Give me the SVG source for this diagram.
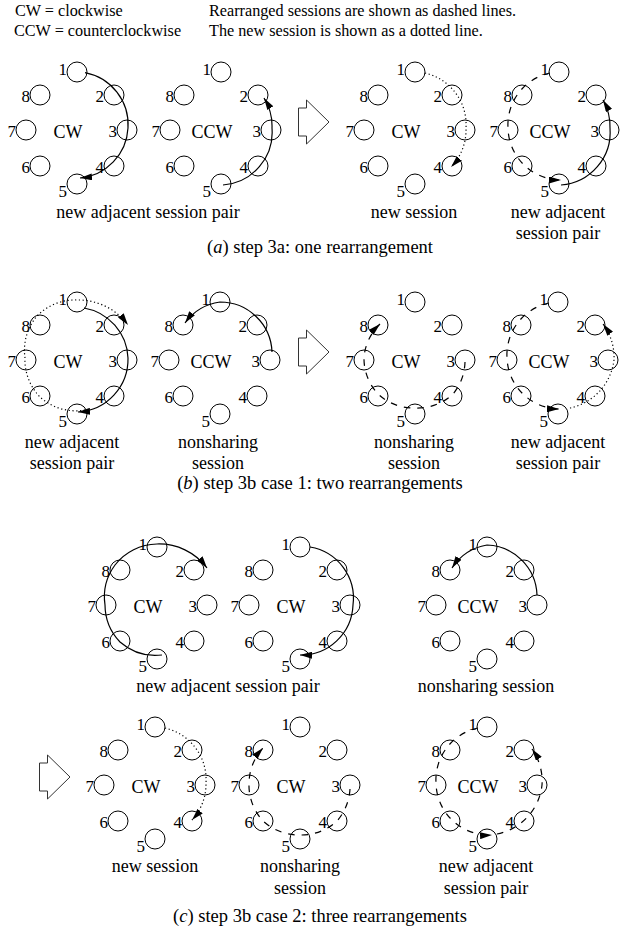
<svg xmlns="http://www.w3.org/2000/svg" width="620" height="932" viewBox="0 0 620 932">
<defs>
<style>
text{font-family:"Liberation Serif","Times New Roman",serif;fill:#000}
.hd{font-size:16.2px}
.n circle{fill:none;stroke:#000;stroke-width:1}
.n text{font-size:17px;text-anchor:end}
.n text.dir{font-size:18px;text-anchor:middle}
.lb{font-size:18px;text-anchor:middle}
.cap{font-size:18.5px;text-anchor:middle}
.c{fill:none;stroke:#000;stroke-width:1.2}
.sol{marker-end:url(#ah)}
.dsh{stroke-dasharray:6.5 7;marker-end:url(#ah)}
.dot{stroke-dasharray:1.2 2.6;marker-end:url(#ah)}
.big{fill:#fff;stroke:#333;stroke-width:1}
</style>
<marker id="ah" viewBox="0 0 12 7" refX="12" refY="3.5" markerWidth="12" markerHeight="7" markerUnits="userSpaceOnUse" orient="auto"><path d="M0,0 L12,3.5 L0,7 Z" fill="#000"/></marker>
</defs>
<rect width="620" height="932" fill="#fff"/>
<g id="header">
<text class="hd" x="15" y="15.5">CW = clockwise</text>
<text class="hd" x="14" y="35.5">CCW = counterclockwise</text>
<text class="hd" x="209" y="15.5">Rearranged sessions are shown as dashed lines.</text>
<text class="hd" x="209" y="35.5">The new session is shown as a dotted line.</text>
</g>

<g id="ring-a1" class="n" transform="translate(77,72)">
<g id="a1-1"><circle cx="0" cy="0" r="10"/><text x="-10" y="2.5">1</text></g>
<g id="a1-2"><circle cx="37" cy="23" r="10"/><text x="27" y="30">2</text></g>
<g id="a1-3"><circle cx="50" cy="58" r="10"/><text x="40" y="65">3</text></g>
<g id="a1-4"><circle cx="37" cy="94" r="10"/><text x="27" y="101">4</text></g>
<g id="a1-5"><circle cx="0" cy="112" r="10"/><text x="-10" y="124.5">5</text></g>
<g id="a1-6"><circle cx="-37" cy="94" r="10"/><text x="-47" y="101">6</text></g>
<g id="a1-7"><circle cx="-51" cy="58" r="10"/><text x="-61" y="65">7</text></g>
<g id="a1-8"><circle cx="-37" cy="23" r="10"/><text x="-47" y="30">8</text></g>
<text class="dir" x="-9" y="66">CW</text>
</g>
<g id="ring-a2" class="n" transform="translate(221,72)">
<g id="a2-1"><circle cx="0" cy="0" r="10"/><text x="-10" y="2.5">1</text></g>
<g id="a2-2"><circle cx="37" cy="23" r="10"/><text x="27" y="30">2</text></g>
<g id="a2-3"><circle cx="50" cy="58" r="10"/><text x="40" y="65">3</text></g>
<g id="a2-4"><circle cx="37" cy="94" r="10"/><text x="27" y="101">4</text></g>
<g id="a2-5"><circle cx="0" cy="112" r="10"/><text x="-10" y="124.5">5</text></g>
<g id="a2-6"><circle cx="-37" cy="94" r="10"/><text x="-47" y="101">6</text></g>
<g id="a2-7"><circle cx="-51" cy="58" r="10"/><text x="-61" y="65">7</text></g>
<g id="a2-8"><circle cx="-37" cy="23" r="10"/><text x="-47" y="30">8</text></g>
<text class="dir" x="-9" y="66">CCW</text>
</g>
<g id="ring-a3" class="n" transform="translate(415,72)">
<g id="a3-1"><circle cx="0" cy="0" r="10"/><text x="-10" y="2.5">1</text></g>
<g id="a3-2"><circle cx="37" cy="23" r="10"/><text x="27" y="30">2</text></g>
<g id="a3-3"><circle cx="50" cy="58" r="10"/><text x="40" y="65">3</text></g>
<g id="a3-4"><circle cx="37" cy="94" r="10"/><text x="27" y="101">4</text></g>
<g id="a3-5"><circle cx="0" cy="112" r="10"/><text x="-10" y="124.5">5</text></g>
<g id="a3-6"><circle cx="-37" cy="94" r="10"/><text x="-47" y="101">6</text></g>
<g id="a3-7"><circle cx="-51" cy="58" r="10"/><text x="-61" y="65">7</text></g>
<g id="a3-8"><circle cx="-37" cy="23" r="10"/><text x="-47" y="30">8</text></g>
<text class="dir" x="-9" y="66">CW</text>
</g>
<g id="ring-a4" class="n" transform="translate(559,72)">
<g id="a4-1"><circle cx="0" cy="0" r="10"/><text x="-10" y="2.5">1</text></g>
<g id="a4-2"><circle cx="37" cy="23" r="10"/><text x="27" y="30">2</text></g>
<g id="a4-3"><circle cx="50" cy="58" r="10"/><text x="40" y="65">3</text></g>
<g id="a4-4"><circle cx="37" cy="94" r="10"/><text x="27" y="101">4</text></g>
<g id="a4-5"><circle cx="0" cy="112" r="10"/><text x="-10" y="124.5">5</text></g>
<g id="a4-6"><circle cx="-37" cy="94" r="10"/><text x="-47" y="101">6</text></g>
<g id="a4-7"><circle cx="-51" cy="58" r="10"/><text x="-61" y="65">7</text></g>
<g id="a4-8"><circle cx="-37" cy="23" r="10"/><text x="-47" y="30">8</text></g>
<text class="dir" x="-9" y="66">CCW</text>
</g>

<g id="ring-b1" class="n" transform="translate(77,302)">
<g id="b1-1"><circle cx="0" cy="0" r="10"/><text x="-10" y="2.5">1</text></g>
<g id="b1-2"><circle cx="37" cy="23" r="10"/><text x="27" y="30">2</text></g>
<g id="b1-3"><circle cx="50" cy="58" r="10"/><text x="40" y="65">3</text></g>
<g id="b1-4"><circle cx="37" cy="94" r="10"/><text x="27" y="101">4</text></g>
<g id="b1-5"><circle cx="0" cy="112" r="10"/><text x="-10" y="124.5">5</text></g>
<g id="b1-6"><circle cx="-37" cy="94" r="10"/><text x="-47" y="101">6</text></g>
<g id="b1-7"><circle cx="-51" cy="58" r="10"/><text x="-61" y="65">7</text></g>
<g id="b1-8"><circle cx="-37" cy="23" r="10"/><text x="-47" y="30">8</text></g>
<text class="dir" x="-9" y="66">CW</text>
</g>
<g id="ring-b2" class="n" transform="translate(220,302)">
<g id="b2-1"><circle cx="0" cy="0" r="10"/><text x="-10" y="2.5">1</text></g>
<g id="b2-2"><circle cx="37" cy="23" r="10"/><text x="27" y="30">2</text></g>
<g id="b2-3"><circle cx="50" cy="58" r="10"/><text x="40" y="65">3</text></g>
<g id="b2-4"><circle cx="37" cy="94" r="10"/><text x="27" y="101">4</text></g>
<g id="b2-5"><circle cx="0" cy="112" r="10"/><text x="-10" y="124.5">5</text></g>
<g id="b2-6"><circle cx="-37" cy="94" r="10"/><text x="-47" y="101">6</text></g>
<g id="b2-7"><circle cx="-51" cy="58" r="10"/><text x="-61" y="65">7</text></g>
<g id="b2-8"><circle cx="-37" cy="23" r="10"/><text x="-47" y="30">8</text></g>
<text class="dir" x="-9" y="66">CCW</text>
</g>
<g id="ring-b3" class="n" transform="translate(415,302)">
<g id="b3-1"><circle cx="0" cy="0" r="10"/><text x="-10" y="2.5">1</text></g>
<g id="b3-2"><circle cx="37" cy="23" r="10"/><text x="27" y="30">2</text></g>
<g id="b3-3"><circle cx="50" cy="58" r="10"/><text x="40" y="65">3</text></g>
<g id="b3-4"><circle cx="37" cy="94" r="10"/><text x="27" y="101">4</text></g>
<g id="b3-5"><circle cx="0" cy="112" r="10"/><text x="-10" y="124.5">5</text></g>
<g id="b3-6"><circle cx="-37" cy="94" r="10"/><text x="-47" y="101">6</text></g>
<g id="b3-7"><circle cx="-51" cy="58" r="10"/><text x="-61" y="65">7</text></g>
<g id="b3-8"><circle cx="-37" cy="23" r="10"/><text x="-47" y="30">8</text></g>
<text class="dir" x="-9" y="66">CW</text>
</g>
<g id="ring-b4" class="n" transform="translate(558,302)">
<g id="b4-1"><circle cx="0" cy="0" r="10"/><text x="-10" y="2.5">1</text></g>
<g id="b4-2"><circle cx="37" cy="23" r="10"/><text x="27" y="30">2</text></g>
<g id="b4-3"><circle cx="50" cy="58" r="10"/><text x="40" y="65">3</text></g>
<g id="b4-4"><circle cx="37" cy="94" r="10"/><text x="27" y="101">4</text></g>
<g id="b4-5"><circle cx="0" cy="112" r="10"/><text x="-10" y="124.5">5</text></g>
<g id="b4-6"><circle cx="-37" cy="94" r="10"/><text x="-47" y="101">6</text></g>
<g id="b4-7"><circle cx="-51" cy="58" r="10"/><text x="-61" y="65">7</text></g>
<g id="b4-8"><circle cx="-37" cy="23" r="10"/><text x="-47" y="30">8</text></g>
<text class="dir" x="-9" y="66">CCW</text>
</g>

<g id="ring-c1" class="n" transform="translate(157,547)">
<g id="c1-1"><circle cx="0" cy="0" r="10"/><text x="-10" y="2.5">1</text></g>
<g id="c1-2"><circle cx="37" cy="23" r="10"/><text x="27" y="30">2</text></g>
<g id="c1-3"><circle cx="50" cy="58" r="10"/><text x="40" y="65">3</text></g>
<g id="c1-4"><circle cx="37" cy="94" r="10"/><text x="27" y="101">4</text></g>
<g id="c1-5"><circle cx="0" cy="112" r="10"/><text x="-10" y="124.5">5</text></g>
<g id="c1-6"><circle cx="-37" cy="94" r="10"/><text x="-47" y="101">6</text></g>
<g id="c1-7"><circle cx="-51" cy="58" r="10"/><text x="-61" y="65">7</text></g>
<g id="c1-8"><circle cx="-37" cy="23" r="10"/><text x="-47" y="30">8</text></g>
<text class="dir" x="-9" y="66">CW</text>
</g>
<g id="ring-c2" class="n" transform="translate(300,547)">
<g id="c2-1"><circle cx="0" cy="0" r="10"/><text x="-10" y="2.5">1</text></g>
<g id="c2-2"><circle cx="37" cy="23" r="10"/><text x="27" y="30">2</text></g>
<g id="c2-3"><circle cx="50" cy="58" r="10"/><text x="40" y="65">3</text></g>
<g id="c2-4"><circle cx="37" cy="94" r="10"/><text x="27" y="101">4</text></g>
<g id="c2-5"><circle cx="0" cy="112" r="10"/><text x="-10" y="124.5">5</text></g>
<g id="c2-6"><circle cx="-37" cy="94" r="10"/><text x="-47" y="101">6</text></g>
<g id="c2-7"><circle cx="-51" cy="58" r="10"/><text x="-61" y="65">7</text></g>
<g id="c2-8"><circle cx="-37" cy="23" r="10"/><text x="-47" y="30">8</text></g>
<text class="dir" x="-9" y="66">CW</text>
</g>
<g id="ring-c3" class="n" transform="translate(487,547)">
<g id="c3-1"><circle cx="0" cy="0" r="10"/><text x="-10" y="2.5">1</text></g>
<g id="c3-2"><circle cx="37" cy="23" r="10"/><text x="27" y="30">2</text></g>
<g id="c3-3"><circle cx="50" cy="58" r="10"/><text x="40" y="65">3</text></g>
<g id="c3-4"><circle cx="37" cy="94" r="10"/><text x="27" y="101">4</text></g>
<g id="c3-5"><circle cx="0" cy="112" r="10"/><text x="-10" y="124.5">5</text></g>
<g id="c3-6"><circle cx="-37" cy="94" r="10"/><text x="-47" y="101">6</text></g>
<g id="c3-7"><circle cx="-51" cy="58" r="10"/><text x="-61" y="65">7</text></g>
<g id="c3-8"><circle cx="-37" cy="23" r="10"/><text x="-47" y="30">8</text></g>
<text class="dir" x="-9" y="66">CCW</text>
</g>
<g id="ring-c4" class="n" transform="translate(155,727)">
<g id="c4-1"><circle cx="0" cy="0" r="10"/><text x="-10" y="2.5">1</text></g>
<g id="c4-2"><circle cx="37" cy="23" r="10"/><text x="27" y="30">2</text></g>
<g id="c4-3"><circle cx="50" cy="58" r="10"/><text x="40" y="65">3</text></g>
<g id="c4-4"><circle cx="37" cy="94" r="10"/><text x="27" y="101">4</text></g>
<g id="c4-5"><circle cx="0" cy="112" r="10"/><text x="-10" y="124.5">5</text></g>
<g id="c4-6"><circle cx="-37" cy="94" r="10"/><text x="-47" y="101">6</text></g>
<g id="c4-7"><circle cx="-51" cy="58" r="10"/><text x="-61" y="65">7</text></g>
<g id="c4-8"><circle cx="-37" cy="23" r="10"/><text x="-47" y="30">8</text></g>
<text class="dir" x="-9" y="66">CW</text>
</g>
<g id="ring-c5" class="n" transform="translate(300,727)">
<g id="c5-1"><circle cx="0" cy="0" r="10"/><text x="-10" y="2.5">1</text></g>
<g id="c5-2"><circle cx="37" cy="23" r="10"/><text x="27" y="30">2</text></g>
<g id="c5-3"><circle cx="50" cy="58" r="10"/><text x="40" y="65">3</text></g>
<g id="c5-4"><circle cx="37" cy="94" r="10"/><text x="27" y="101">4</text></g>
<g id="c5-5"><circle cx="0" cy="112" r="10"/><text x="-10" y="124.5">5</text></g>
<g id="c5-6"><circle cx="-37" cy="94" r="10"/><text x="-47" y="101">6</text></g>
<g id="c5-7"><circle cx="-51" cy="58" r="10"/><text x="-61" y="65">7</text></g>
<g id="c5-8"><circle cx="-37" cy="23" r="10"/><text x="-47" y="30">8</text></g>
<text class="dir" x="-9" y="66">CW</text>
</g>
<g id="ring-c6" class="n" transform="translate(487,727)">
<g id="c6-1"><circle cx="0" cy="0" r="10"/><text x="-10" y="2.5">1</text></g>
<g id="c6-2"><circle cx="37" cy="23" r="10"/><text x="27" y="30">2</text></g>
<g id="c6-3"><circle cx="50" cy="58" r="10"/><text x="40" y="65">3</text></g>
<g id="c6-4"><circle cx="37" cy="94" r="10"/><text x="27" y="101">4</text></g>
<g id="c6-5"><circle cx="0" cy="112" r="10"/><text x="-10" y="124.5">5</text></g>
<g id="c6-6"><circle cx="-37" cy="94" r="10"/><text x="-47" y="101">6</text></g>
<g id="c6-7"><circle cx="-51" cy="58" r="10"/><text x="-61" y="65">7</text></g>
<g id="c6-8"><circle cx="-37" cy="23" r="10"/><text x="-47" y="30">8</text></g>
<text class="dir" x="-9" y="66">CCW</text>
</g>

<g id="connectors">
<g transform="translate(77,72)"><path class="c sol" d="M8,0.7 A53,53 0 0 1 51,56 A53,53 0 0 1 3,106"/></g>
<g transform="translate(221,72)"><path class="c sol" d="M2,113 A53,53 0 0 0 51,56 A53,53 0 0 0 43,26"/></g>
<g transform="translate(415,72)"><path class="c dot" d="M10,1 A53,53 0 0 1 51,56 A53,53 0 0 1 36,95"/></g>
<g transform="translate(559,72)"><path class="c dsh" d="M-9,1 A53,53 0 0 0 -51,56 A53,53 0 0 0 2,108"/><path class="c sol" d="M2,113 A53,53 0 0 0 51,56 A53,53 0 0 0 44,28"/></g>

<g transform="translate(77,302)"><path class="c dot" d="M8,108 A53,53 0 0 1 -37,95 A53,53 0 0 1 -52,56 A53,53 0 0 1 -40,14 A53,53 0 0 1 0,-2 A62,62 0 0 1 51,23"/><path class="c sol" d="M7,6 A53,53 0 0 1 51,56 A53,53 0 0 1 1,110"/></g>
<g transform="translate(220,302)"><path class="c sol" d="M52,50 A52,52 0 0 0 0,0 A52,52 0 0 0 -35,21"/></g>
<g transform="translate(415,302)"><path class="c dsh" d="M50,60 A52,52 0 0 1 38,92 A52,52 0 0 1 0,106 A52,52 0 0 1 -37,92 A52,52 0 0 1 -51,55 A52,52 0 0 1 -35,22"/></g>
<g transform="translate(558,302)"><path class="c dsh" d="M-9,1 A53,53 0 0 0 -51,56 A53,53 0 0 0 1,107"/><path class="c dot" d="M12,106 A56,56 0 0 0 56,58 A56,56 0 0 0 45,22"/></g>

<g transform="translate(157,547)"><path class="c sol" d="M5,108 A54,54 0 0 1 -37,95 A54,54 0 0 1 -52,58 A54,54 0 0 1 -42,18 A54,54 0 0 1 0,-3 A60,60 0 0 1 50,21"/></g>
<g transform="translate(300,547)"><path class="c sol" d="M10,0 A52,52 0 0 1 53,58 A52,52 0 0 1 0,108"/></g>
<g transform="translate(487,547)"><path class="c sol" d="M50,48 A52,52 0 0 0 0,-2 A52,52 0 0 0 -35,21"/></g>
<g transform="translate(155,727)"><path class="c dot" d="M10,1 A53,53 0 0 1 51,56 A53,53 0 0 1 37,93"/></g>
<g transform="translate(300,727)"><path class="c dsh" d="M50,62 A53,53 0 0 1 37,94 A53,53 0 0 1 0,108 A53,53 0 0 1 -37,94 A53,53 0 0 1 -51,56 A53,53 0 0 1 -37,21"/></g>
<g transform="translate(487,727)"><path class="c dsh" d="M-9,1 A53,53 0 0 0 -51,56 A53,53 0 0 0 5,108"/><path class="c dsh" d="M10,107 A56,56 0 0 0 55,58 A56,56 0 0 0 45,22"/></g>
</g>

<g id="step-arrows">
<path id="arrow-a" class="big" d="M298.5,108 H306.5 V100 L329,122 L306.5,144 V136 H298.5 Z"/>
<path id="arrow-b" class="big" d="M298.5,338 H306.5 V330 L329,352 L306.5,374 V366 H298.5 Z"/>
<path id="arrow-c" class="big" d="M39.5,763 H47.5 V755 L70,777 L47.5,799 V791 H39.5 Z"/>
</g>

<g id="labels">
<text class="lb" x="148" y="218">new adjacent session pair</text>
<text class="lb" x="414" y="218">new session</text>
<text class="lb" x="558" y="218">new adjacent</text>
<text class="lb" x="558" y="238.5">session pair</text>
<text class="cap" x="320" y="253">(<tspan font-style="italic">a</tspan>) step 3a: one rearrangement</text>

<text class="lb" x="72" y="447.5">new adjacent</text>
<text class="lb" x="72" y="469">session pair</text>
<text class="lb" x="218" y="447.5">nonsharing</text>
<text class="lb" x="218" y="469">session</text>
<text class="lb" x="414" y="447.5">nonsharing</text>
<text class="lb" x="414" y="469">session</text>
<text class="lb" x="558" y="447.5">new adjacent</text>
<text class="lb" x="558" y="469">session pair</text>
<text class="cap" x="320" y="489">(<tspan font-style="italic">b</tspan>) step 3b case 1: two rearrangements</text>

<text class="lb" x="228" y="692">new adjacent session pair</text>
<text class="lb" x="486" y="692">nonsharing session</text>
<text class="lb" x="155" y="872">new session</text>
<text class="lb" x="300" y="872">nonsharing</text>
<text class="lb" x="300" y="893.5">session</text>
<text class="lb" x="486" y="872">new adjacent</text>
<text class="lb" x="486" y="893.5">session pair</text>
<text class="cap" x="320" y="922">(<tspan font-style="italic">c</tspan>) step 3b case 2: three rearrangements</text>
</g>
</svg>
